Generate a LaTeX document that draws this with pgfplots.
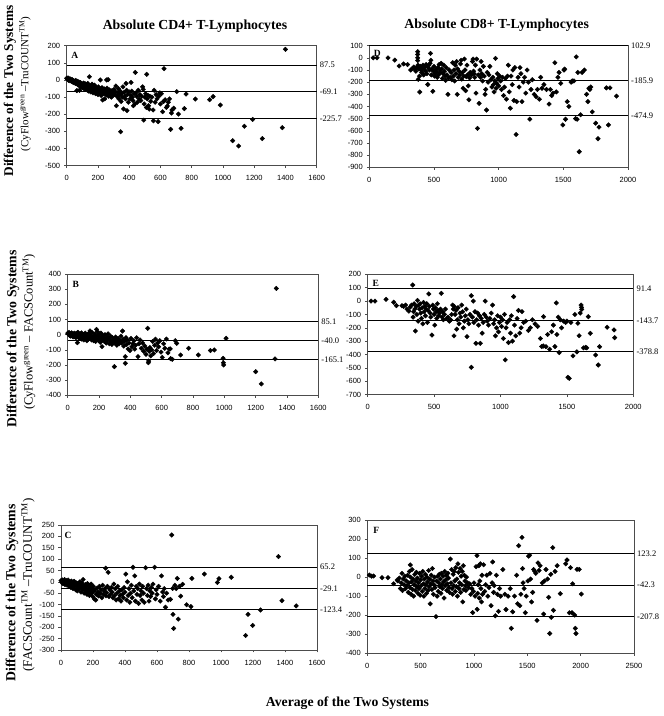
\documentclass[border=0pt]{standalone}
\usepackage{fontspec}
\setmainfont{Liberation Serif}
\newfontfamily\arial{Liberation Sans}
\usepackage{pgfplots}
\pgfplotsset{compat=1.18}
\pgfplotsset{
  bp/.style={scale only axis, anchor=south west, clip=false,
    axis line style={draw=gray!60!black, line width=0.6pt},
    tick style={draw=gray!60!black, line width=0.5pt},
    tick align=outside, major tick length=2.5pt,
    xtick pos=left, ytick pos=left,
    ticklabel style={font=\arial\fontsize{7.5}{8}\selectfont},
    xticklabel style={yshift=-4pt},
    yticklabel style={xshift=-0.5pt},
    /pgf/number format/assume math mode=true,
    /pgf/number format/1000 sep={},
  },
  pts/.style={only marks, mark=square*, mark size=1.6pt, mark options={rotate=45, fill=black, draw=black}},
  refl/.style={black, line width=0.9pt},
}
\tikzset{
  rl/.style={anchor=west, font=\fontsize{8.5}{9}\selectfont, inner sep=1.5pt, xshift=1.5pt},
  pl/.style={font=\bfseries\fontsize{9.5}{10}\selectfont},
}
\begin{document}
\begin{tikzpicture}
\useasboundingbox (0,0) rectangle (664pt,716pt);
% ---------- Panel A ----------
\begin{axis}[bp, at={(66.7pt,550.3pt)}, width=250pt, height=120pt,
  xmin=0, xmax=1600, ymin=-500, ymax=200, xtick distance=200, ytick distance=100]
\addplot[refl] coordinates {(0,87.5) (1600,87.5)};
\addplot[refl] coordinates {(0,-69.1) (1600,-69.1)};
\addplot[refl] coordinates {(0,-225.7) (1600,-225.7)};
\addplot[pts] table {
x y
0 10
5 5
8 12
12 -2
15 8
18 3
22 -5
25 6
28 0
32 -8
35 2
38 -12
42 -4
45 -15
48 -6
52 -10
55 -20
58 -3
62 -14
65 -62
68 -25
70 -8
72 -18
75 -30
78 -12
80 -22
82 -60
85 -35
88 -15
90 -28
92 -40
95 -20
98 -32
100 -45
102 -25
105 -38
108 -18
110 -50
112 -30
115 -42
118 -22
120 -55
122 -35
125 -28
128 -48
130 -38
132 -60
135 -20
138 -45
140 -30
142 -65
145 19
148 -40
150 -52
152 -35
155 -70
158 -45
160 -58
162 -25
165 -48
168 -75
170 -38
172 -62
175 -50
178 -30
180 -68
182 -55
185 -80
188 -42
190 -60
193 -72
196 -50
200 -85
203 -40
206 -65
210 -78
215 0
218 -55
220 -90
223 -70
226 -45
230 -117
233 -62
236 -80
240 -52
243 -110
246 -72
250 -60
253 -88
255 0
258 -48
262 -75
265 2
268 -95
270 -65
274 -58
278 -82
282 -70
286 -100
290 -62
294 -90
298 -78
302 -55
306 -85
310 -68
315 -35
318 -150
322 -95
326 -75
330 -50
334 -110
338 -88
342 -65
345 -302
348 -125
352 -80
356 -100
360 -40
364 -169
368 -72
372 -95
376 -110
380 -20
384 -60
386 -179
390 -85
395 -130
400 -70
405 -110
410 -90
412 -14
416 -65
420 -100
424 -120
427 -150
432 -80
436 -140
439 44
444 -75
448 -95
452 -130
458 -60
463 -110
468 -85
474 -120
480 -95
486 -40
490 -55
493 -234
496 -140
500 -100
505 -80
510 -160
512 33
515 -110
520 -90
524 -150
528 -170
532 -95
538 -125
545 -100
553 -175
555 -238
560 -60
566 -130
572 -85
578 -110
585 -243
590 -95
596 -75
600 -140
606 -80
614 -185
620 -125
623 66
630 -115
638 -160
644 -152
650 -130
658 -110
665 -288
670 -193
674 -175
685 -165
704 -68
715 -199
732 -282
753 -167
764 -82
823 -111
915 -115
937 -97
983 -146
1062 -354
1100 -385
1137 -270
1190 -230
1252 -342
1380 -278
1400 179
};
\node[rl] at (axis cs:1600,87.5) {87.5};
\node[rl] at (axis cs:1600,-69.1) {-69.1};
\node[rl] at (axis cs:1600,-225.7) {-225.7};
\node[pl, xshift=8pt, yshift=-9.5pt] at (rel axis cs:0,1) {A};
\end{axis}
% ---------- Panel D ----------
\begin{axis}[bp, at={(369.3pt,548.7pt)}, width=258.7pt, height=121.6pt,
  xmin=0, xmax=2000, ymin=-900, ymax=100, xtick distance=500, ytick distance=100]
\addplot[refl] coordinates {(0,102.9) (2000,102.9)};
\addplot[refl] coordinates {(0,-185.9) (2000,-185.9)};
\addplot[refl] coordinates {(0,-474.9) (2000,-474.9)};
\addplot[pts] table {
x y
30 0
60 0
145 0
197 -18
231 -67
265 -50
296 -55
320 -100
335 -85
345 -75
352 -95
360 -110
368 -80
374 51
374 28
374 0
374 -22
376 -60
378 -177
382 -90
388 -150
390 -281
395 -70
400 -100
405 -120
410 -85
415 -60
420 -140
425 -95
430 -75
435 -110
440 -55
445 -130
452 -219
455 -80
460 -60
465 -100
470 -45
473 37
476 -20
480 -140
485 -90
491 -275
495 -110
500 -70
505 -150
510 -130
515 -95
520 -115
525 -160
530 -80
535 -140
540 -55
545 -100
550 -120
555 -45
560 -90
565 -170
570 -130
575 -60
580 -110
585 -150
590 -185
595 -80
600 -140
608 -300
612 -165
618 -100
625 -160
632 -120
638 -180
645 -40
650 -150
655 -100
660 -190
665 -60
670 -130
675 -30
680 -300
682 -90
688 -160
694 -110
700 -140
705 -50
710 -20
715 -175
720 -120
725 -250
730 -150
735 -10
740 -100
745 -270
750 -155
755 -60
760 -140
765 -230
770 -345
775 -165
780 -120
790 -140
798 -30
802 -10
806 -110
810 -130
815 -160
820 -60
825 -290
830 -10
836 -580
842 -140
849 -374
855 -100
860 -160
865 -30
870 -130
876 -190
882 -70
888 -150
895 -300
900 -260
906 -429
912 -120
918 -200
925 -140
932 -70
940 -180
948 -240
955 -160
960 -220
965 -280
970 -190
976 -4
980 -250
985 -210
990 -130
995 -170
1000 -230
1008 -150
1015 -190
1022 -260
1030 -160
1038 -310
1045 -240
1052 -170
1060 -340
1068 -150
1075 -60
1082 -280
1090 -414
1096 -150
1105 -220
1110 -100
1118 -350
1125 -80
1135 -630
1140 -360
1150 -160
1158 -240
1165 -80
1172 -130
1180 -360
1190 -200
1200 -160
1210 -290
1220 -100
1230 -200
1241 -504
1250 -260
1260 -180
1275 -300
1290 -320
1300 -260
1315 -340
1325 -160
1335 -250
1350 -220
1370 -260
1390 -380
1400 -260
1410 -310
1420 -290
1435 -40
1446 -280
1458 -160
1467 -120
1480 -210
1496 -552
1505 -100
1511 -92
1517 -505
1530 -360
1543 -400
1560 -200
1569 -190
1582 -190
1595 -500
1600 8
1607 -505
1612 -120
1623 -772
1634 -468
1645 -120
1662 -100
1680 -300
1690 -360
1698 -250
1705 -260
1712 -240
1724 -444
1750 -537
1768 -665
1776 -570
1833 -247
1849 -552
1861 -247
1911 -315
};
\node[rl] at (axis cs:2000,102.9) {102.9};
\node[rl] at (axis cs:2000,-185.9) {-185.9};
\node[rl] at (axis cs:2000,-474.9) {-474.9};
\node[pl, xshift=8pt, yshift=-8pt] at (rel axis cs:0,1) {D};
\end{axis}
% ---------- Panel B ----------
\begin{axis}[bp, at={(67.7pt,320.7pt)}, width=250.6pt, height=121.3pt,
  xmin=0, xmax=1600, ymin=-400, ymax=400, xtick distance=200, ytick distance=100]
\addplot[refl] coordinates {(0,85.1) (1600,85.1)};
\addplot[refl] coordinates {(0,-40.0) (1600,-40.0)};
\addplot[refl] coordinates {(0,-165.1) (1600,-165.1)};
\addplot[pts] table {
x y
0 10
5 2
8 15
12 -5
15 8
18 -10
22 0
25 12
28 -8
32 5
35 -15
38 -2
42 10
45 -12
48 3
52 -20
55 8
58 -5
62 -53
65 15
68 -18
70 0
74 -10
78 -25
80 5
84 -15
88 12
90 -30
94 -8
98 2
100 -20
104 -35
108 -5
112 10
115 -25
118 -12
122 -40
125 0
128 -18
132 -30
135 8
138 -10
142 25
145 -22
148 -5
152 -35
155 15
158 -15
162 -28
165 -40
168 -8
172 -20
175 5
178 -45
180 -12
184 35
186 -30
190 20
194 -10
198 -38
200 0
204 -25
208 -50
212 10
215 -15
219 -79
222 -35
226 -5
230 -22
234 -45
238 0
242 -30
246 -55
250 -15
254 -40
258 5
262 -25
266 -60
270 -35
274 -10
278 -48
282 -65
286 -20
290 -42
294 -30
298 -211
302 -55
306 -15
310 -35
314 -70
318 -48
322 -25
328 -60
334 -40
340 -10
345 -55
350 24
354 -30
358 -75
362 -45
368 -145
368 -189
372 -20
376 -65
380 -35
386 -95
392 -55
398 -105
404 -25
410 -80
416 -60
422 -40
428 -95
434 -70
440 -20
449 -145
455 -60
462 -35
470 -90
478 -55
485 -110
492 -75
500 -130
505 -95
511 42
515 -185
517 -174
520 -110
525 -85
530 -140
536 -100
542 -45
548 -125
555 -70
560 -30
567 -105
574 -55
580 -80
588 -40
596 -115
604 -150
612 -60
620 -90
630 -29
640 -120
648 -95
655 -94
657 -158
668 -163
687 -40
696 -57
721 -134
772 -90
834 -134
911 -105
936 -101
992 -156
994 -185
996 -200
1011 -24
1200 -244
1236 -325
1324 -160
1332 305
};
\node[rl] at (axis cs:1600,85.1) {85.1};
\node[rl] at (axis cs:1600,-40.0) {-40.0};
\node[rl] at (axis cs:1600,-165.1) {-165.1};
\node[pl, xshift=8pt, yshift=-10pt] at (rel axis cs:0,1) {B};
\end{axis}
% ---------- Panel E ----------
\begin{axis}[bp, at={(367.7pt,321.3pt)}, width=265.6pt, height=120.4pt,
  xmin=0, xmax=2000, ymin=-700, ymax=200, xtick distance=500, ytick distance=100]
\addplot[refl] coordinates {(0,91.4) (2000,91.4)};
\addplot[refl] coordinates {(0,-143.7) (2000,-143.7)};
\addplot[refl] coordinates {(0,-378.8) (2000,-378.8)};
\addplot[pts] table {
x y
25 0
55 0
138 13
196 -9
216 -34
258 -35
270 -40
285 -30
296 -60
310 -75
320 -45
330 -30
339 120
342 -120
346 -80
350 -20
355 -60
359 -224
365 -40
370 -100
375 5
380 -150
385 -30
390 -60
395 -20
400 -90
405 -130
410 -50
415 -170
420 -10
425 -80
430 -40
435 -110
440 -60
445 -20
450 -160
455 -70
460 53
464 -40
470 -90
475 -120
484 -254
490 -30
495 -60
500 -100
505 -180
510 -50
515 -80
520 -130
525 -20
530 -70
535 -110
540 -90
548 -60
554 58
560 -120
565 -80
570 -140
578 -100
585 -60
595 -130
605 -120
615 -150
625 -140
632 -100
640 -30
645 -60
650 -260
652 -40
658 -100
665 -70
670 -210
675 -140
680 -50
688 -170
695 -90
700 -120
708 -30
715 -80
720 -200
728 -150
735 -110
742 -60
748 -266
755 -140
762 -170
770 -100
780 40
780 -495
788 -120
795 0
800 -160
808 -80
815 -316
820 -140
828 -90
835 -180
842 -110
848 -316
855 -130
862 -240
870 -160
878 -100
885 0
892 -120
900 -150
910 -180
920 -130
930 -90
940 -30
948 -170
955 -140
962 -260
970 -200
978 -110
985 -230
992 -160
1000 -120
1008 -190
1015 -140
1022 -280
1030 -100
1036 -440
1042 -200
1050 -160
1060 -310
1068 -140
1075 -240
1082 -110
1090 -300
1099 33
1105 -180
1115 -260
1125 -130
1135 -70
1145 -240
1155 -200
1162 -79
1175 -160
1190 -150
1210 -220
1225 -200
1240 -140
1260 -170
1280 -190
1300 -280
1310 -340
1322 -336
1324 -117
1342 -341
1355 -250
1370 -360
1385 -230
1398 -180
1410 -340
1420 -14
1425 -250
1435 -120
1442 -385
1450 -140
1460 -200
1475 -150
1490 -160
1500 -150
1508 -570
1518 -578
1530 -160
1546 -410
1560 -100
1575 -380
1583 -166
1592 -259
1600 -90
1607 -30
1610 -47
1612 -62
1625 -350
1641 -346
1650 -350
1661 -117
1676 -241
1716 -403
1736 -478
1746 -341
1803 -196
1855 -216
1860 -274
};
\node[rl] at (axis cs:2000,91.4) {91.4};
\node[rl] at (axis cs:2000,-143.7) {-143.7};
\node[rl] at (axis cs:2000,-378.8) {-378.8};
\node[pl, xshift=8pt, yshift=-9pt] at (rel axis cs:0,1) {E};
\end{axis}
% ---------- Panel C ----------
\begin{axis}[bp, at={(61pt,66pt)}, width=256pt, height=125pt,
  xmin=0, xmax=1600, ymin=-300, ymax=250, xtick distance=200, ytick distance=50]
\addplot[refl] coordinates {(0,65.2) (1600,65.2)};
\addplot[refl] coordinates {(0,-29.1) (1600,-29.1)};
\addplot[refl] coordinates {(0,-123.4) (1600,-123.4)};
\addplot[pts] table {
x y
0 5
5 -2
8 8
12 -8
15 2
18 -5
22 10
25 -12
28 0
32 -6
35 5
38 -15
42 -3
45 8
48 -10
52 -20
55 0
58 -8
62 -25
65 3
68 -15
72 -5
75 -30
78 -10
82 2
85 -20
88 -12
92 -35
95 -5
98 -18
102 -40
105 -8
108 -25
112 -15
115 -30
118 0
122 -10
125 -45
128 -22
132 -5
135 -35
138 10
142 -18
145 -50
148 -28
152 -12
155 -40
158 -20
162 -55
165 -8
168 -32
172 -45
175 -15
178 -60
182 -25
185 -38
188 -10
192 -50
195 -30
198 -65
202 -20
205 -42
208 -75
212 -35
217 -80
220 -55
225 -28
230 -45
235 -62
240 -20
245 -50
250 -35
255 -70
260 -15
265 -55
270 -40
275 -30
279 60
281 -62
285 -48
290 -20
295 42
300 -65
305 -35
310 -55
315 -25
320 -45
325 -70
330 -10
335 -60
340 -30
345 -80
350 -50
355 -20
360 -75
365 -40
370 -60
375 -85
380 -35
385 -55
390 -70
395 -25
400 -45
405 34
410 -80
415 0
420 -60
425 -30
430 -90
435 -50
440 -15
445 -70
450 64
455 -40
461 26
465 -85
470 -20
475 -55
480 -30
485 -95
490 -10
495 -60
500 -40
505 -80
510 -20
515 -50
520 -90
529 62
535 -30
540 -60
545 -15
550 -85
555 -40
560 -65
565 -25
570 -50
575 -10
585 64
590 -75
595 -35
600 -55
610 -20
620 -85
628 26
635 -45
640 -65
645 -30
653 -112
660 -50
670 -80
684 -77
692 206
698 -29
700 -143
704 -205
712 -15
720 -30
727 15
733 -164
740 -20
748 -63
760 -11
785 -101
812 -109
818 15
896 34
977 -3
987 14
1064 20
1154 -236
1169 -143
1198 -192
1247 -124
1359 111
1381 -83
1470 -106
};
\node[rl] at (axis cs:1600,65.2) {65.2};
\node[rl] at (axis cs:1600,-29.1) {-29.1};
\node[rl] at (axis cs:1600,-123.4) {-123.4};
\node[pl, xshift=7pt, yshift=-10pt] at (rel axis cs:0,1) {C};
\end{axis}
% ---------- Panel F ----------
\begin{axis}[bp, at={(367.3pt,62.7pt)}, width=266.7pt, height=133.3pt,
  xmin=0, xmax=2500, ymin=-400, ymax=300, xtick distance=500, ytick distance=100]
\addplot[refl] coordinates {(0,123.2) (2500,123.2)};
\addplot[refl] coordinates {(0,-42.3) (2500,-42.3)};
\addplot[refl] coordinates {(0,-207.8) (2500,-207.8)};
\addplot[pts] table {
x y
19 11
40 5
59 6
138 -3
194 -3
247 -35
280 -15
287 -20
300 -5
310 -60
318 -30
325 20
330 -70
338 -10
345 -40
352 5
358 -60
365 -20
372 -45
378 10
385 -80
390 -30
395 30
400 -55
403 64
405 0
410 -90
415 -25
420 40
425 -65
430 -10
435 -100
440 -40
445 15
450 -70
455 -20
460 25
465 -50
470 -5
475 -85
480 -30
485 -60
490 20
495 -95
500 -15
505 -45
510 5
515 -75
520 30
525 -35
530 -100
535 -10
540 -60
545 15
550 -40
555 -85
560 0
565 -25
570 -70
575 35
580 -50
585 -10
590 -140
595 -35
600 10
605 -65
610 45
615 -20
620 -90
625 -40
630 0
635 -55
644 -207
650 -20
655 -100
660 5
665 -75
670 -30
675 15
680 -50
685 -10
690 -85
695 20
700 -40
705 -60
710 5
715 -25
720 -110
725 30
730 -45
735 -15
740 10
745 -70
750 -35
755 20
760 -5
765 -55
770 -80
778 95
785 -30
790 40
795 -60
800 -90
805 15
810 -45
815 30
820 -20
825 -75
830 50
835 -50
840 -10
845 -100
850 70
855 25
860 -60
865 -30
870 45
875 -80
880 5
885 -40
890 30
895 -130
900 60
905 -65
910 10
915 -20
920 -45
925 -70
930 0
940 -30
950 -55
960 -35
970 -90
980 -60
988 -186
995 -75
1000 -30
1010 -100
1020 55
1028 113
1030 -169
1035 -85
1040 -40
1045 60
1050 -110
1055 -20
1060 70
1065 -60
1070 -130
1075 10
1080 -90
1090 65
1100 -75
1110 -40
1120 10
1130 -100
1140 -55
1150 20
1160 -150
1170 -30
1175 80
1184 -80
1190 -45
1200 -203
1210 10
1220 -90
1230 -180
1240 -60
1250 -100
1270 40
1290 -90
1300 -170
1320 -100
1340 -60
1350 -269
1363 -182
1380 -100
1400 10
1410 -140
1419 165
1430 -150
1440 -90
1450 209
1455 45
1460 -30
1470 -60
1481 -187
1490 -100
1505 -20
1512 110
1522 115
1530 -10
1540 -130
1550 -80
1560 40
1570 30
1580 20
1591 -227
1600 75
1610 35
1620 60
1640 -30
1653 -194
1660 -20
1675 40
1690 -10
1700 -106
1710 -296
1720 15
1725 -211
1738 155
1745 -174
1760 30
1780 60
1809 -87
1860 70
1872 90
1894 -187
1905 50
1919 -187
1925 -35
1944 -199
1950 -269
1956 -296
1966 41
1987 41
2006 -89
};
\node[rl] at (axis cs:2500,123.2) {123.2};
\node[rl] at (axis cs:2500,-42.3) {-42.3};
\node[rl] at (axis cs:2500,-207.8) {-207.8};
\node[pl, xshift=9pt, yshift=-10pt] at (rel axis cs:0,1) {F};
\end{axis}
% ---------- Titles and labels ----------
\node[font=\bfseries\fontsize{13.8}{15}\selectfont] at (195pt,689.3pt) {Absolute CD4+ T-Lymphocytes};
\node[font=\bfseries\fontsize{13.8}{15}\selectfont] at (496.7pt,691pt) {Absolute CD8+ T-Lymphocytes};
\node[rotate=90, font=\bfseries\fontsize{13.3}{14}\selectfont] at (10pt,625pt) {Difference of the Two Systems};
\node[rotate=90, font=\fontsize{11}{12}\selectfont] at (25pt,632pt) {(CyFlow\textsuperscript{green} –TruCOUNT\textsuperscript{TM})};
\node[rotate=90, font=\bfseries\fontsize{13.8}{14}\selectfont] at (13pt,377pt) {Difference of the Two Systems};
\node[rotate=90, font=\fontsize{12.5}{13}\selectfont] at (29pt,384pt) {(CyFlow\textsuperscript{green} – FACSCount\textsuperscript{TM})};
\node[rotate=90, font=\bfseries\fontsize{13.8}{14}\selectfont] at (12pt,123pt) {Difference of the Two Systems};
\node[rotate=90, font=\fontsize{13}{14}\selectfont] at (28pt,131pt) {(FACSCount\textsuperscript{TM} –TruCOUNT\textsuperscript{TM})};
\node[font=\bfseries\fontsize{13.7}{15}\selectfont] at (347.5pt,13pt) {Average of the Two Systems};
\end{tikzpicture}
\end{document}
